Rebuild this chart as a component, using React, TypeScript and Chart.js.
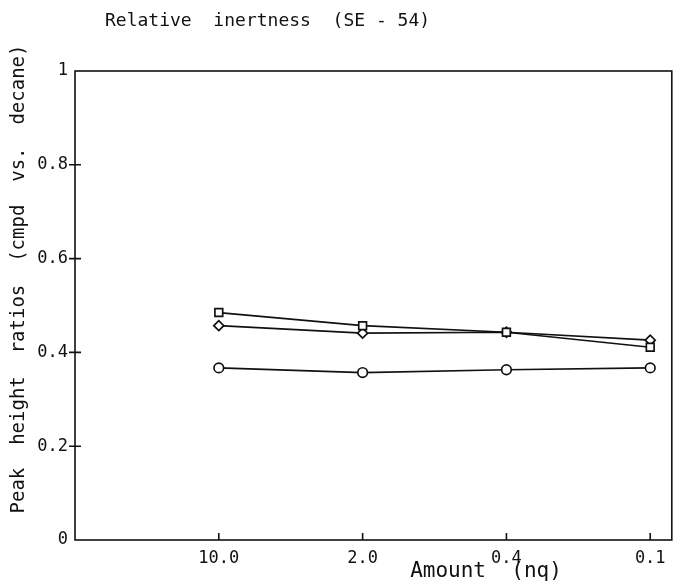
import { useEffect, useRef } from 'react';
import { Chart, registerables } from 'chart.js';

Chart.register(...registerables);

const amountLabels = ['10.0', '2.0', '0.4', '0.1'];
const amountPositions = [1, 2, 3, 4];
const squareSeries = [0.485, 0.457, 0.443, 0.411];
const diamondSeries = [0.457, 0.441, 0.443, 0.426];
const circleSeries = [0.367, 0.357, 0.363, 0.367];
const yTickValues = [0, 0.2, 0.4, 0.6, 0.8, 1];
const yTickLabels = ['0', '0.2', '0.4', '0.6', '0.8', '1'];

const titleText = 'Relative  inertness  (SE - 54)';
const xTitleText = 'Amount  (nq)';
const yTitleText = 'Peak  height  ratios  (cmpd  vs.  decane)';

const INK = '#111111';
const MONO = '"DejaVu Sans Mono", monospace';

const toPoints = (vals: number[]) => vals.map((v, i) => ({ x: amountPositions[i], y: v }));

const decorPlugin = {
  id: 'decor',
  afterDraw(chart: any) {
    const { ctx, chartArea } = chart;
    const { left, right, top, bottom } = chartArea;
    const xs = chart.scales.x;
    const ys = chart.scales.y;
    ctx.save();
    ctx.strokeStyle = INK;
    ctx.lineWidth = 1.6;
    ctx.strokeRect(left, top, right - left, bottom - top);
    ctx.beginPath();
    yTickValues.forEach((v) => {
      if (v === 0 || v === 1) return;
      const py = ys.getPixelForValue(v);
      ctx.moveTo(left - 6, py);
      ctx.lineTo(left + 6, py);
    });
    amountPositions.forEach((v) => {
      const px = xs.getPixelForValue(v);
      ctx.moveTo(px, bottom);
      ctx.lineTo(px, bottom - 7);
    });
    ctx.stroke();

    ctx.fillStyle = INK;
    ctx.textBaseline = 'middle';
    ctx.textAlign = 'left';
    ctx.font = `18px ${MONO}`;
    ctx.fillText(titleText, 105, 21);

    ctx.font = `21px ${MONO}`;
    ctx.textAlign = 'center';
    ctx.fillText(xTitleText, 486, 572);

    ctx.save();
    ctx.translate(19, 279);
    ctx.rotate(-Math.PI / 2);
    ctx.font = `19px ${MONO}`;
    ctx.textAlign = 'center';
    ctx.fillText(yTitleText, 0, 0);
    ctx.restore();
    ctx.restore();
  },
};

export default function App() {
  const canvasRef = useRef<HTMLCanvasElement | null>(null);

  useEffect(() => {
    if (!canvasRef.current) return;
    const common = {
      borderColor: INK,
      borderWidth: 1.7,
      pointBackgroundColor: '#ffffff',
      pointBorderColor: INK,
      pointBorderWidth: 1.7,
      fill: false,
      tension: 0,
    };
    const chart = new Chart(canvasRef.current, {
      type: 'line',
      data: {
        datasets: [
          { ...common, label: 'square', data: toPoints(squareSeries), pointStyle: 'rect', pointRadius: 5.5 },
          { ...common, label: 'diamond', data: toPoints(diamondSeries), pointStyle: 'rectRot', pointRadius: 5 },
          { ...common, label: 'circle', data: toPoints(circleSeries), pointStyle: 'circle', pointRadius: 4.8 },
        ],
      },
      options: {
        animation: false,
        responsive: false,
        devicePixelRatio: 1,
        layout: { padding: { top: 71, right: 2, left: 0, bottom: 0 } },
        plugins: { legend: { display: false }, title: { display: false }, tooltip: { enabled: false } },
        scales: {
          x: {
            type: 'linear',
            min: 0,
            max: 4.15,
            grid: { display: false, drawTicks: false },
            border: { display: false },
            afterBuildTicks: (scale: any) => {
              scale.ticks = amountPositions.map((v) => ({ value: v }));
            },
            afterFit: (scale: any) => {
              scale.height = 44;
            },
            ticks: {
              autoSkip: false,
              maxRotation: 0,
              padding: 8,
              color: INK,
              font: { family: MONO, size: 17 },
              callback: (value: any) => amountLabels[amountPositions.indexOf(Number(value))] ?? '',
            },
          },
          y: {
            type: 'linear',
            min: 0,
            max: 1,
            grid: { display: false, drawTicks: false },
            border: { display: false },
            afterBuildTicks: (scale: any) => {
              scale.ticks = yTickValues.map((v) => ({ value: v }));
            },
            afterFit: (scale: any) => {
              scale.width = 75;
            },
            ticks: {
              autoSkip: false,
              padding: 7,
              color: INK,
              font: { family: MONO, size: 17 },
              callback: (value: any) => yTickLabels[yTickValues.indexOf(Number(value))] ?? '',
            },
          },
        },
      },
      plugins: [decorPlugin],
    });
    return () => chart.destroy();
  }, []);

  return (
    <div style={{ position: 'absolute', left: 0, top: 0, width: 679, height: 584, background: '#fff' }}>
      <canvas ref={canvasRef} width={679} height={584} style={{ display: 'block' }} />
    </div>
  );
}
